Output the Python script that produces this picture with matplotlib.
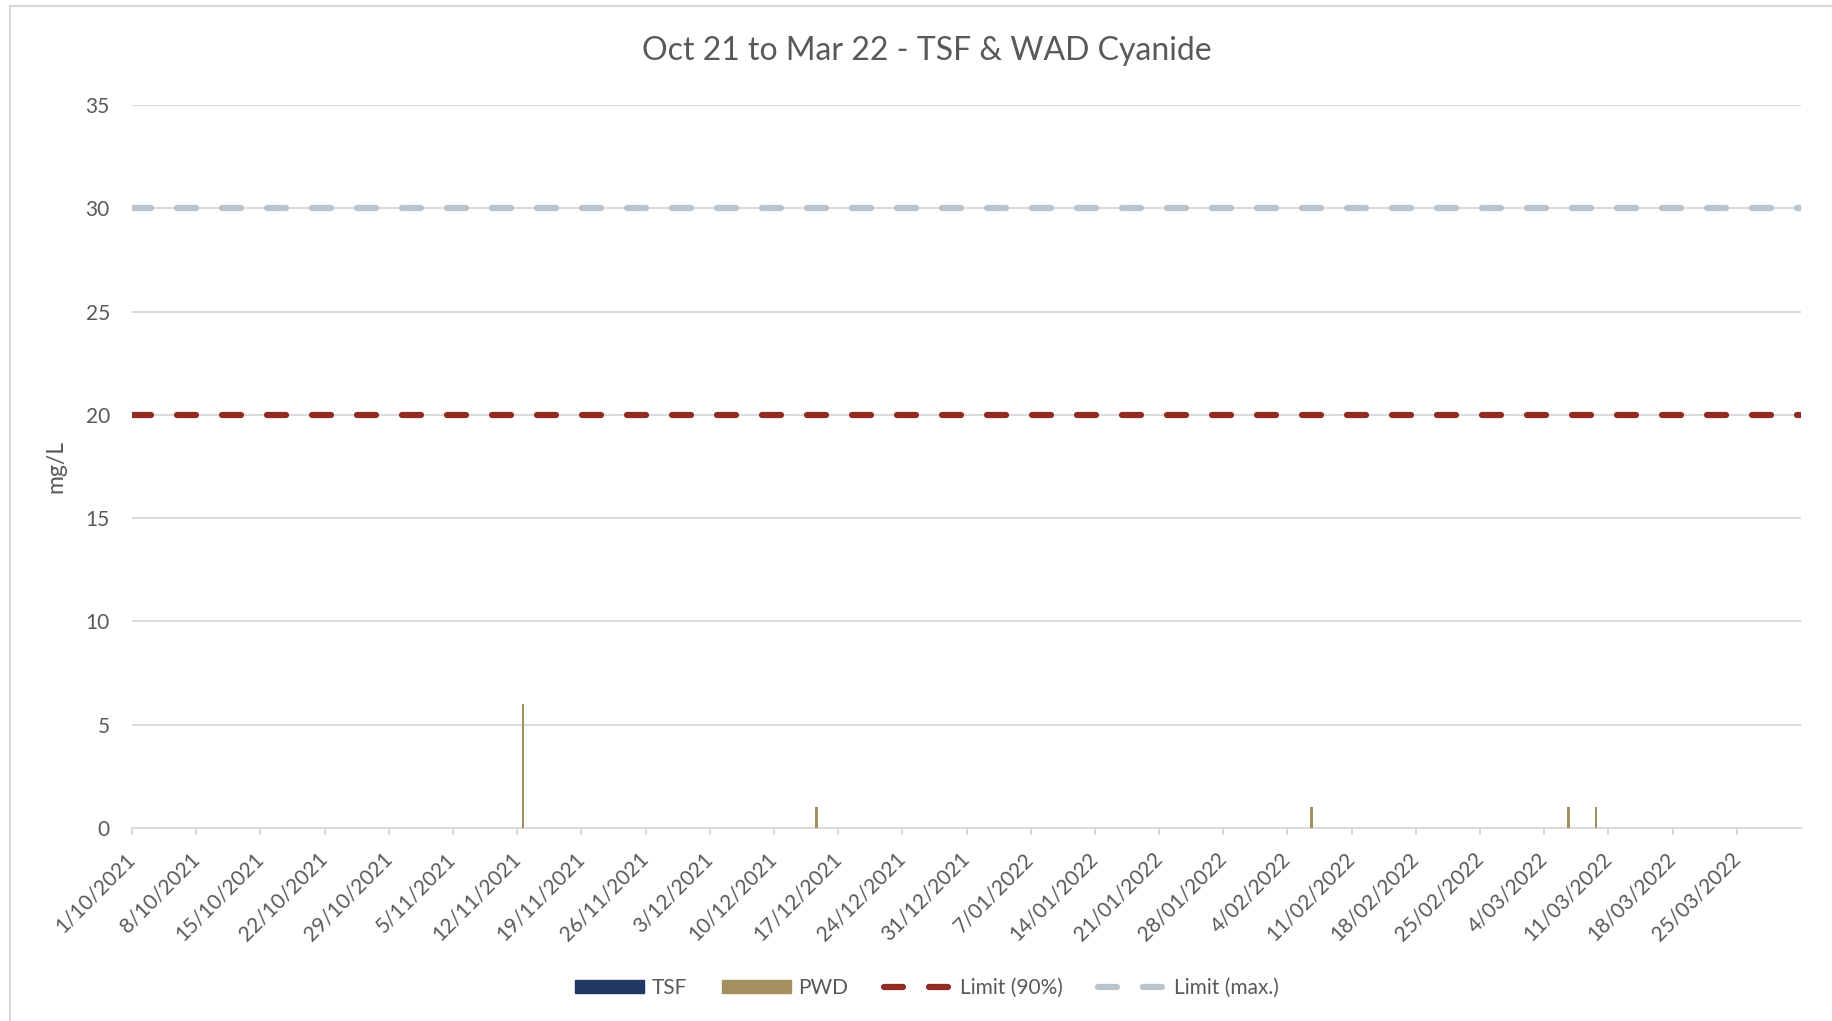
import numpy as np
import matplotlib
matplotlib.use('Agg')
import matplotlib.pyplot as plt
import matplotlib.dates as mdates
from matplotlib.patches import Patch
from matplotlib.lines import Line2D

plt.rcParams['font.family'] = ['Lato', 'DejaVu Sans']

# data
bar_dates = np.array(['2021-11-12', '2021-12-14', '2022-02-06', '2022-03-06', '2022-03-09'],
                     dtype='datetime64[D]')
tsf = [0, 0, 0, 0, 0]
pwd = [6, 1, 1, 1, 1]
limit_90 = 20
limit_max = 30
x_start = np.datetime64('2021-10-01')
x_end = np.datetime64('2022-04-01')
tick_dates = np.arange(x_start, np.datetime64('2022-03-26'), np.timedelta64(7, 'D'))

grey_txt = '#595959'
grid_c = '#D9D9D9'
tsf_c = '#1F3864'
pwd_c = '#A48F5F'
red_c = '#922B21'
lgrey_c = '#BAC4CA'
fs = 15

fig = plt.figure(figsize=(18.32, 10.21), dpi=100)
ax = fig.add_axes([132/1832, 1 - 828/1021, (1801-132)/1832, (828-105)/1021])

xb = mdates.date2num(bar_dates) + 0.5
w = 0.28
ax.bar(xb - w/2, tsf, width=w, color=tsf_c, zorder=3)
ax.bar(xb + w/2, pwd, width=w, color=pwd_c, zorder=3)

lw = 4.5
dash = (3.04, 4.16)
ax.axhline(limit_max, color=lgrey_c, lw=lw, dashes=dash, dash_capstyle='round', zorder=4)
ax.axhline(limit_90, color=red_c, lw=lw, dashes=dash, dash_capstyle='round', zorder=4)

ax.set_xlim(mdates.date2num(x_start), mdates.date2num(x_end))
ax.set_ylim(0, 35)
ax.set_yticks(range(0, 36, 5))
ax.yaxis.grid(True, color=grid_c, lw=1.4, zorder=0)
ax.set_axisbelow(True)

ax.set_xticks(mdates.date2num(tick_dates))
labels = [f'{d.day}/{d.month:02d}/{d.year}' for d in tick_dates.astype(object)]
ax.set_xticklabels(labels, rotation=45, ha='right', va='center', rotation_mode='anchor')

for s in ['top', 'right', 'left']:
    ax.spines[s].set_visible(False)
ax.spines['bottom'].set_color(grid_c)
ax.spines['bottom'].set_linewidth(1.4)
ax.tick_params(axis='x', colors=grid_c, length=5, width=1.4, labelcolor=grey_txt,
               labelsize=fs, pad=15)
ax.tick_params(axis='y', length=0, labelcolor=grey_txt, labelsize=fs, pad=16)

ax.set_ylabel('mg/L', color=grey_txt, fontsize=16.5, labelpad=14)
fig.text(927/1832, 1 - 51/1021, 'Oct 21 to Mar 22 - TSF & WAD Cyanide',
         ha='center', va='center', fontsize=23, color=grey_txt)

handles = [Patch(color=tsf_c), Patch(color=pwd_c),
           Line2D([], [], color=red_c, lw=lw, dashes=dash, dash_capstyle='round'),
           Line2D([], [], color=lgrey_c, lw=lw, dashes=dash, dash_capstyle='round')]
leg = fig.legend(handles, ['TSF', 'PWD', 'Limit (90%)', 'Limit (max.)'], loc='center',
                 bbox_to_anchor=(927/1832, 1 - 988/1021), ncol=4, frameon=False,
                 fontsize=fs, handlelength=3.3, handleheight=0.6, handletextpad=0.35,
                 columnspacing=1.7)
for t in leg.get_texts():
    t.set_color(grey_txt)

# outer chart border (top and left visible)
fig.add_artist(Line2D([10/1832, 1], [1 - 6/1021, 1 - 6/1021], color=grid_c, lw=1.5))
fig.add_artist(Line2D([10/1832, 10/1832], [0, 1 - 6/1021], color=grid_c, lw=1.5))

fig.savefig('out.png', dpi=100)
